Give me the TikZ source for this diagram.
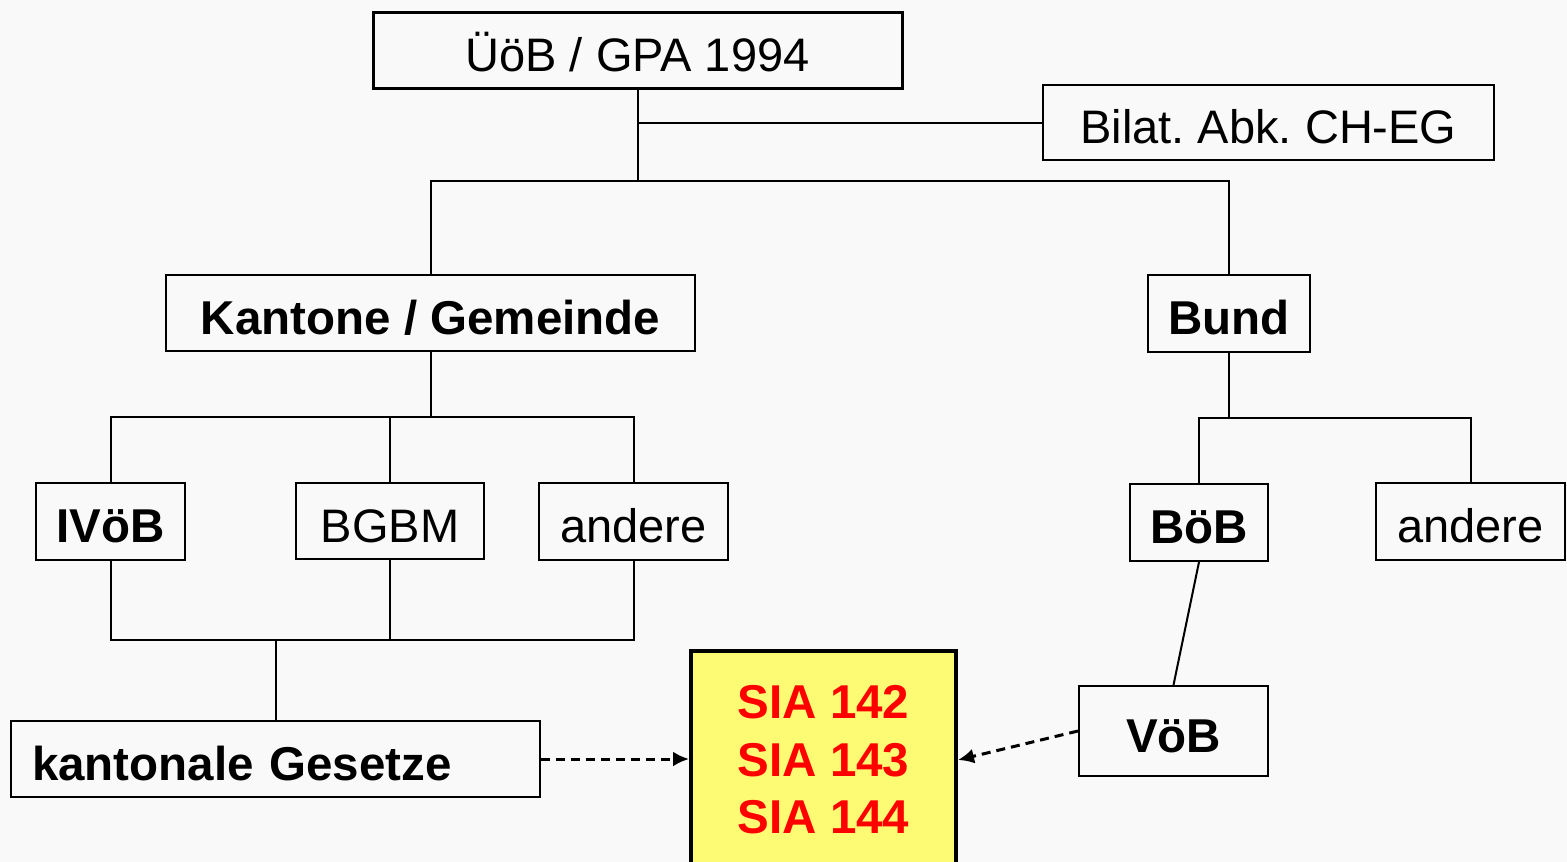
\documentclass[tikz,border=0pt]{standalone}
\usepackage{fontspec}
\setmainfont{Liberation Sans}
\usetikzlibrary{arrows.meta,positioning}
\definecolor{pagebg}{RGB}{249,249,249}
\definecolor{siayellow}{RGB}{253,250,115}
\definecolor{siared}{RGB}{255,0,0}
\frenchspacing

\begin{document}
\begin{tikzpicture}[
  x=1pt, y=-1pt,
  >=Latex,
  box/.style={
    draw=black,
    line width=2pt,
    inner sep=0pt,
    text height=42pt,
    text depth=0pt,
    font=\fontsize{47}{56}\selectfont
  },
  boldbox/.style={box, font=\fontsize{47.5}{56}\selectfont\bfseries},
  link/.style={line width=2pt, draw=black},
  dasharrow/.style={-{Latex[length=16pt,width=15pt]}, line width=3pt, draw=black, dash pattern=on 9pt off 6pt}
]

\fill[pagebg] (0,0) rectangle (1567,862);
\useasboundingbox (0,0) rectangle (1567,862);

\node[box, line width=3pt, minimum width=529pt, minimum height=76pt] (gpa) at (637.5,50) {ÜöB / GPA 1994};
\node[box, minimum width=451pt, minimum height=75pt] (bilat) at (1268.5,122.5) {Bilat. Abk. CH-EG};

\node[boldbox, minimum width=529pt, minimum height=76pt] (kantone) at (430.5,313) {Kantone / Gemeinde};
\node[boldbox, minimum width=162pt, minimum height=77pt] (bund) at (1229,313.5) {Bund};

\node[boldbox, minimum width=149pt, minimum height=77pt] (ivoeb) at (110.5,521.5) {IVöB};
\node[box, minimum width=188pt, minimum height=76pt] (bgbm) at (390,521) {BGBM};
\node[box, minimum width=189pt, minimum height=77pt] (andereK) at (633.5,521.5) {andere};
\node[boldbox, minimum width=138pt, minimum height=77pt] (boeb) at (1199,522.5) {BöB};
\node[box, minimum width=189pt, minimum height=77pt] (andereB) at (1470.5,521.5) {andere};

\node[boldbox, minimum height=76pt, text width=487pt, inner xsep=21pt, align=left] (gesetze) at (275.5,759) {kantonale Gesetze};
\node[boldbox, minimum width=189pt, minimum height=90pt] (voeb) at (1173.5,731) {VöB};

\node[draw=black, line width=4pt, fill=siayellow, text=siared, inner sep=0pt,
  minimum width=265pt, minimum height=218pt, align=center,
  font=\fontsize{47.5}{57.5}\selectfont\bfseries] (sia) at (823.5,760) {SIA 142\\SIA 143\\SIA 144};

% upper tree
\coordinate (fork1) at (637.5,181);
\draw[link] (gpa.south) -- (fork1);
\draw[link] (bilat.west) -- (bilat.west -| gpa.south);
\draw[link] (kantone.north) |- (fork1) -| (bund.north);

% cantons
\coordinate (fork2) at (430.5,417);
\draw[link] (kantone.south) -- (fork2);
\draw[link] (ivoeb.north) |- (fork2) -| (andereK.north);
\draw[link] (bgbm.north) -- (bgbm.north |- fork2);

% federal
\coordinate (fork3) at (1229,418);
\draw[link] (bund.south) -- (fork3);
\draw[link] (boeb.north) |- (fork3) -| (andereB.north);

% lower part
\coordinate (merge) at (276,640);
\draw[link] (ivoeb.south) |- (merge) -| (andereK.south);
\draw[link] (bgbm.south) -- (bgbm.south |- merge);
\draw[link] (merge) -- (merge |- gesetze.north);
\draw[link] (boeb.south) -- (voeb.north);

\draw[dasharrow] (gesetze.east) -- (gesetze.east -| sia.west);
\draw[dasharrow] (voeb.west) -- (sia.east);

\end{tikzpicture}
\end{document}
